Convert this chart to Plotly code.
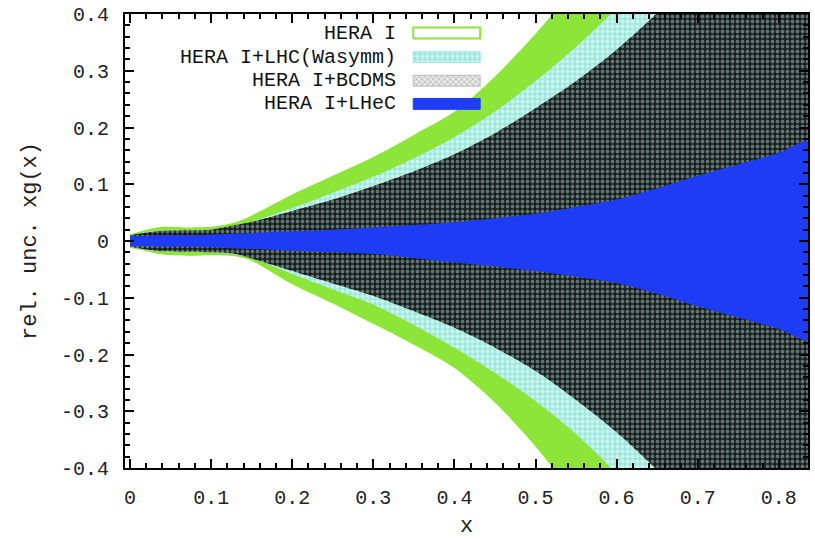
import plotly.graph_objects as go

# x grid at which the uncertainty bands are sampled
x = [0.0, 0.02, 0.04, 0.07, 0.1, 0.13, 0.15, 0.2, 0.25, 0.3, 0.35, 0.4,
     0.45, 0.5, 0.55, 0.6, 0.65, 0.7, 0.75, 0.8, 0.84]

# HERA I
hera_up = [0.012, 0.020, 0.025, 0.024, 0.025, 0.033, 0.045, 0.082, 0.115, 0.148, 0.187, 0.228,
           0.290, 0.365, 0.450, 0.545, 0.650, 0.765, 0.890, 1.025, 1.140]
hera_lo = [-0.012, -0.018, -0.024, -0.026, -0.025, -0.027, -0.035, -0.076, -0.110, -0.146, -0.183, -0.224,
           -0.285, -0.362, -0.455, -0.555, -0.660, -0.775, -0.900, -1.035, -1.150]

# HERA I + LHC (W asymmetry)
lhc_up = [0.010, 0.016, 0.018, 0.019, 0.020, 0.027, 0.034, 0.058, 0.085, 0.113, 0.146, 0.183,
          0.228, 0.282, 0.342, 0.410, 0.485, 0.570, 0.665, 0.770, 0.860]
lhc_lo = [-0.010, -0.016, -0.018, -0.019, -0.020, -0.024, -0.030, -0.058, -0.085, -0.112, -0.148, -0.188,
          -0.232, -0.282, -0.340, -0.410, -0.490, -0.580, -0.675, -0.780, -0.870]

# HERA I + BCDMS
bcdms_up = [0.010, 0.015, 0.018, 0.019, 0.020, 0.028, 0.034, 0.053, 0.073, 0.097, 0.123, 0.153,
            0.190, 0.234, 0.282, 0.337, 0.402, 0.475, 0.555, 0.645, 0.725]
bcdms_lo = [-0.010, -0.015, -0.018, -0.019, -0.020, -0.023, -0.031, -0.053, -0.075, -0.097, -0.124, -0.153,
            -0.188, -0.229, -0.280, -0.337, -0.404, -0.478, -0.558, -0.648, -0.728]

# HERA I + LHeC
lhec_up = [0.009, 0.009, 0.010, 0.010, 0.011, 0.013, 0.014, 0.017, 0.020, 0.024, 0.028, 0.033,
           0.040, 0.048, 0.060, 0.073, 0.093, 0.115, 0.135, 0.155, 0.175]
lhec_lo = [-0.009, -0.009, -0.010, -0.010, -0.011, -0.013, -0.014, -0.017, -0.020, -0.023, -0.030, -0.038,
           -0.045, -0.053, -0.063, -0.074, -0.093, -0.115, -0.135, -0.155, -0.174]

series_names = ["HERA I", "HERA I+LHC(Wasymm)", "HERA I+BCDMS", "HERA I+LHeC"]

x_tickvals = [0, 0.1, 0.2, 0.3, 0.4, 0.5, 0.6, 0.7, 0.8]
x_ticktext = ["0", "0.1", "0.2", "0.3", "0.4", "0.5", "0.6", "0.7", "0.8"]
y_tickvals = [-0.4, -0.3, -0.2, -0.1, 0, 0.1, 0.2, 0.3, 0.4]
y_ticktext = ["-0.4", "-0.3", "-0.2", "-0.1", "0", "0.1", "0.2", "0.3", "0.4"]

FONT = "Courier New, Liberation Mono, monospace"

GREEN = "#8ee53a"
CYAN = "#9ce8dd"
BLUE = "#1f3cf5"

styles = [
    dict(fillcolor=GREEN),
    dict(fillpattern=dict(shape=".", bgcolor=CYAN, fgcolor="white", size=5, solidity=0.45)),
    dict(fillpattern=dict(shape=".", bgcolor="#161b1b", fgcolor="#a9cbc5", size=5, solidity=0.45)),
    dict(fillcolor=BLUE),
]

bands = [(hera_up, hera_lo), (lhc_up, lhc_lo), (bcdms_up, bcdms_lo), (lhec_up, lhec_lo)]

fig = go.Figure()
for (up, lo), name, st in zip(bands, series_names, styles):
    fig.add_trace(go.Scatter(
        x=x + x[::-1], y=up + lo[::-1],
        mode="lines", fill="toself",
        line=dict(width=0, color="rgba(0,0,0,0)", shape="spline", smoothing=0.8),
        name=name, showlegend=False, hoverinfo="skip", **st))

# Key: swatches drawn on an overlay axis spanning the plot area (0..1 both ways)
key_x0, key_x1 = 0.422, 0.520
key_rows = [0.958, 0.905, 0.853, 0.802]
key_half = 0.012
key_styles = [
    dict(fillcolor="white", line=dict(color=GREEN, width=2)),
    dict(fillpattern=dict(shape=".", bgcolor=CYAN, fgcolor="white", size=5, solidity=0.45),
         line=dict(color=CYAN, width=1)),
    dict(fillpattern=dict(shape="x", bgcolor="#e8e8e8", fgcolor="#707070", size=4, solidity=0.3),
         line=dict(color="#bbbbbb", width=1)),
    dict(fillcolor=BLUE, line=dict(color=BLUE, width=1)),
]
for yc, st in zip(key_rows, key_styles):
    fig.add_trace(go.Scatter(
        x=[key_x0, key_x1, key_x1, key_x0, key_x0],
        y=[yc - key_half, yc - key_half, yc + key_half, yc + key_half, yc - key_half],
        mode="lines", fill="toself", xaxis="x2", yaxis="y2",
        showlegend=False, hoverinfo="skip", **st))

for yc, name in zip(key_rows, series_names):
    fig.add_annotation(x=0.3995, y=yc, xref="paper", yref="paper", text=name,
                       showarrow=False, xanchor="right", yanchor="middle",
                       font=dict(family=FONT, size=20, color="#111111"))

tick_common = dict(ticks="inside", ticklen=9, tickwidth=2, tickcolor="black", automargin=False,
                   showgrid=False, zeroline=False)
minor_x = dict(dtick=0.02, tick0=0, ticks="inside", ticklen=5, tickwidth=1.5, tickcolor="black")
minor_y = dict(dtick=0.02, tick0=0, ticks="inside", ticklen=5, tickwidth=1.5, tickcolor="black")
x_range = [-0.0062, 0.836]
y_range = [-0.4, 0.4]

fig.update_layout(
    width=815, height=539,
    margin=dict(l=125, r=7, t=14, b=71, autoexpand=False),
    paper_bgcolor="white", plot_bgcolor="white",
    xaxis=dict(range=x_range, tickvals=x_tickvals, ticktext=x_ticktext, minor=minor_x,
               showline=True, linecolor="black", linewidth=2, mirror=True,
               tickfont=dict(family=FONT, size=20, color="#222222"),
               title=dict(text="x", font=dict(family=FONT, size=22, color="#222222"), standoff=19),
               ticklabelstandoff=10, **tick_common),
    yaxis=dict(range=y_range, tickvals=y_tickvals, ticktext=y_ticktext, minor=minor_y,
               showline=True, linecolor="black", linewidth=2, mirror=True,
               tickfont=dict(family=FONT, size=20, color="#222222"),
               title=dict(text="rel. unc. xg(x)", font=dict(family=FONT, size=22, color="#222222"), standoff=18),
               ticklabelstandoff=10, **tick_common),
    xaxis2=dict(overlaying="x", range=[0, 1], visible=False),
    yaxis2=dict(overlaying="y", range=[0, 1], visible=False),
    # tick marks repeated along the top and right edges of the frame
    xaxis3=dict(overlaying="x", side="top", range=x_range, tickvals=x_tickvals, minor=minor_x,
                showticklabels=False, **tick_common),
    yaxis3=dict(overlaying="y", side="right", range=y_range, tickvals=y_tickvals, minor=minor_y,
                showticklabels=False, **tick_common),
    showlegend=False,
)

# invisible anchor trace so the top/right tick axes are drawn
fig.add_trace(go.Scatter(x=[None], y=[None], xaxis="x3", yaxis="y3", showlegend=False, hoverinfo="skip"))

fig.write_html("out.html")
